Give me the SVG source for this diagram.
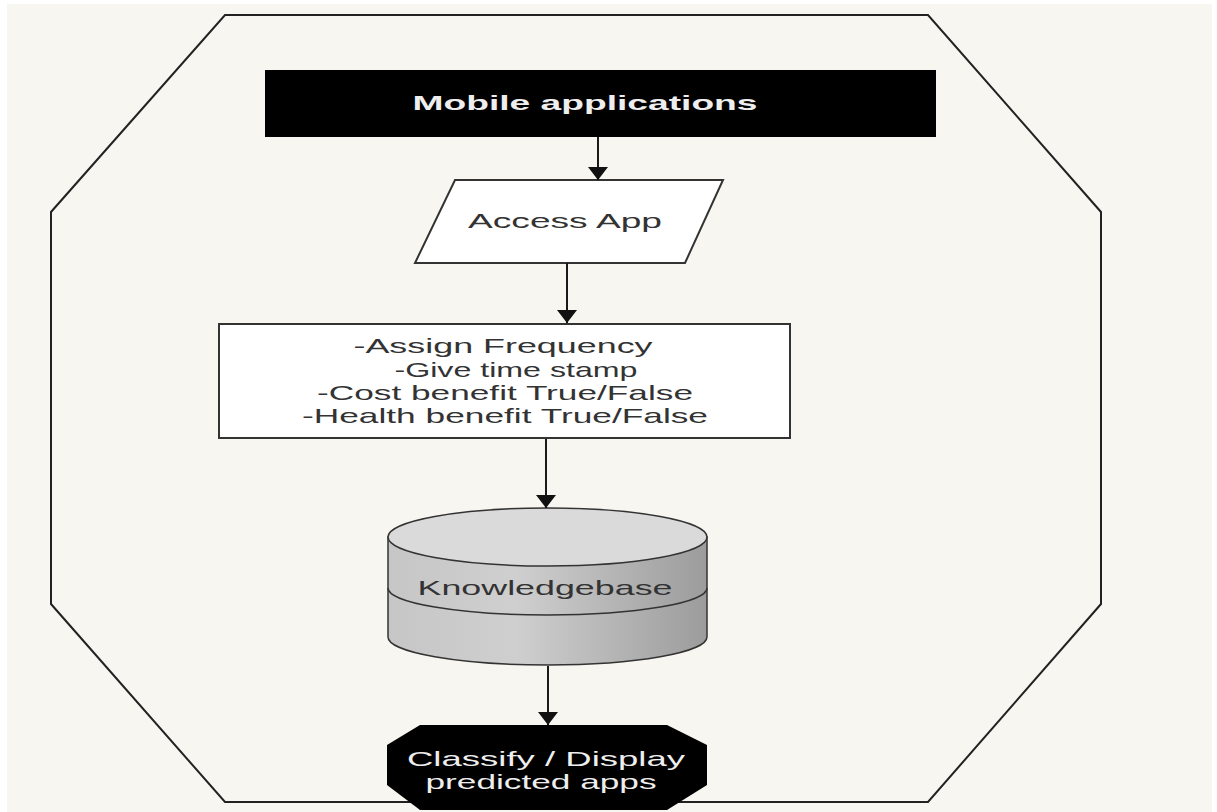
<svg xmlns="http://www.w3.org/2000/svg" width="1217" height="812" viewBox="0 0 1217 812">
  <style>
    .lbl { font-family: "Liberation Sans", Arial, sans-serif; font-size: 21px; fill: #333333; text-anchor: middle; }
    .wht { font-family: "Liberation Sans", Arial, sans-serif; font-size: 21px; fill: #eeeeee; text-anchor: middle; }
    .conn { stroke: #1a1a1a; stroke-width: 2; fill: none; }
  </style>
  <defs>
    <marker id="ah" viewBox="0 0 13 20" refX="13" refY="10" markerWidth="13" markerHeight="20" orient="auto" markerUnits="userSpaceOnUse">
      <path d="M0,0 L13,10 L0,20 z" fill="#111111"/>
    </marker>
    <linearGradient id="cylBody" x1="0" y1="0" x2="1" y2="0">
      <stop offset="0" stop-color="#c6c6c6"/>
      <stop offset="0.4" stop-color="#cfcfcf"/>
      <stop offset="1" stop-color="#9c9c9c"/>
    </linearGradient>
  </defs>

  <rect x="0" y="0" width="1217" height="812" fill="#ffffff"/>
  <rect x="7" y="4" width="1205" height="808" fill="#f8f6f0"/>

  <g id="frame">
    <polygon points="225,15 928,15 1101,212 1101,604 928,802 225,802 51,604 51,212" fill="none" stroke="#222222" stroke-width="2"/>
  </g>

  <g id="mobile-applications">
    <rect x="265" y="70" width="671" height="67" fill="#000000"/>
    <text class="wht" x="585" y="110" font-weight="bold" textLength="345" lengthAdjust="spacingAndGlyphs">Mobile applications</text>
  </g>

  <g id="access-app">
    <polygon points="455,180 723,180 685,263 415,263" fill="#ffffff" stroke="#333333" stroke-width="2"/>
    <text class="lbl" x="565" y="228" textLength="194" lengthAdjust="spacingAndGlyphs">Access App</text>
  </g>

  <g id="process">
    <rect x="219" y="324" width="571" height="114" fill="#ffffff" stroke="#333333" stroke-width="2"/>
    <text class="lbl" x="503" y="353" textLength="299" lengthAdjust="spacingAndGlyphs">-Assign Frequency</text>
    <text class="lbl" x="516" y="377" textLength="243" lengthAdjust="spacingAndGlyphs">-Give time stamp</text>
    <text class="lbl" x="505" y="400" textLength="376" lengthAdjust="spacingAndGlyphs">-Cost benefit True/False</text>
    <text class="lbl" x="505" y="423" textLength="406" lengthAdjust="spacingAndGlyphs">-Health benefit True/False</text>
  </g>

  <g id="knowledgebase">
    <path d="M388,537 L388,637 A159.5,28 0 0 0 707,637 L707,537 z" fill="url(#cylBody)" stroke="#333333" stroke-width="1.5"/>
    <ellipse cx="547.5" cy="537" rx="159.5" ry="29" fill="#dadada" stroke="#333333" stroke-width="1.5"/>
    <path d="M388,588 A159.5,27 0 0 0 707,588" fill="none" stroke="#333333" stroke-width="1.5"/>
    <text class="lbl" x="545" y="595" textLength="255" lengthAdjust="spacingAndGlyphs">Knowledgebase</text>
  </g>

  <g id="connectors">
    <line class="conn" x1="598" y1="137" x2="598" y2="180" marker-end="url(#ah)"/>
    <line class="conn" x1="567" y1="263" x2="567" y2="323" marker-end="url(#ah)"/>
    <line class="conn" x1="546" y1="439" x2="546" y2="508" marker-end="url(#ah)"/>
    <line class="conn" x1="548" y1="666" x2="548" y2="725" marker-end="url(#ah)"/>
  </g>

  <g id="classify">
    <polygon points="420,725 667,725 707,745 707,785 667,810 420,810 387,785 387,745" fill="#000000"/>
    <text class="wht" x="546" y="766" textLength="278" lengthAdjust="spacingAndGlyphs">Classify / Display</text>
    <text class="wht" x="541" y="789" textLength="231" lengthAdjust="spacingAndGlyphs">predicted apps</text>
  </g>
</svg>
